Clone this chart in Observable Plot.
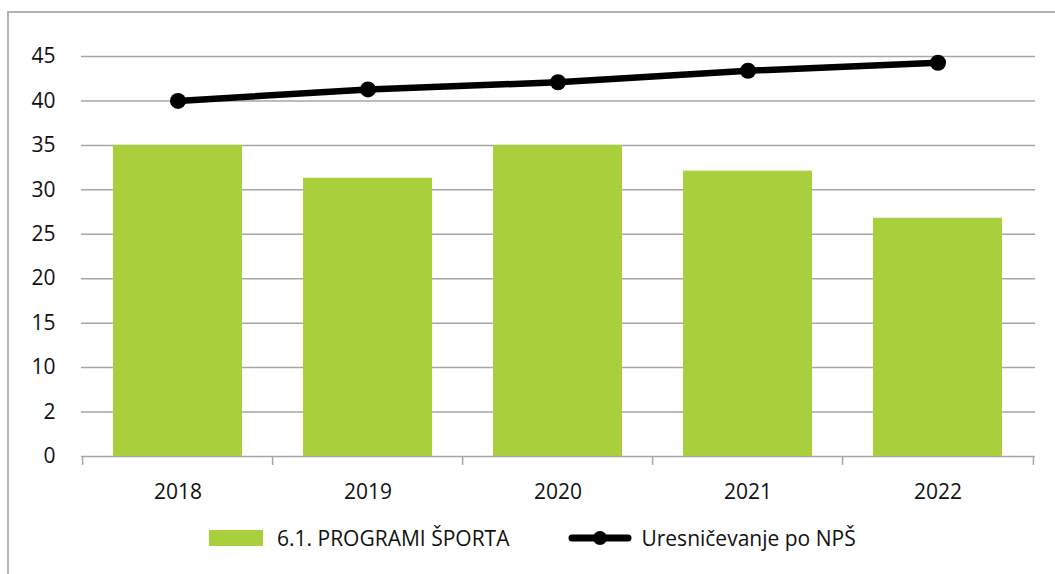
<!DOCTYPE html>
<html>
<head>
<meta charset="utf-8">
<script src="https://cdn.jsdelivr.net/npm/d3@7"></script>
<script src="https://cdn.jsdelivr.net/npm/@observablehq/plot@0.6"></script>
<style>
  html, body { margin: 0; padding: 0; background: #fff; }
  body { width: 1055px; height: 574px; position: relative; overflow: hidden; font-family: "Open Sans", sans-serif; }
  #frame { position: absolute; left: 7px; top: 11px; width: 1100px; height: 600px; border-left: 2px solid #b3b3b3; border-top: 2px solid #b3b3b3; }
  #chart { position: absolute; left: 0; top: 0; }
  #legend { position: absolute; left: 209px; top: 524px; display: flex; align-items: center; font-size: 21px; color: #111; }
  .item { display: flex; align-items: center; }
  .sw { width: 54px; height: 16px; background: #a9cf3d; margin-right: 14px; }
</style>
</head>
<body>
<div id="frame"></div>
<div id="chart"></div>
<div id="legend"></div>
<script>
const years = ["2018", "2019", "2020", "2021", "2022"];
const programiSporta = [35.0, 31.3, 35.0, 32.1, 26.8];
const uresnicevanje = [40.0, 41.3, 42.1, 43.4, 44.3];
const yTickValues = [0, 5, 10, 15, 20, 25, 30, 35, 40, 45];
const yTickLabels = ["0", "2", "10", "15", "20", "25", "30", "35", "40", "45"];
const seriesNames = ["6.1. PROGRAMI ŠPORTA", "Uresničevanje po NPŠ"];
const barColor = "#a9cf3d";
const gridColor = "#a6a6a6";

const bars = years.map((y, i) => ({year: y, value: programiSporta[i]}));
const line = years.map((y, i) => ({year: y, value: uresnicevanje[i]}));

const W = 1055, mL = 81, mR = 20;
const step = (W - mL - mR) / years.length;

const plot = Plot.plot({
  width: W,
  height: 520,
  marginLeft: mL,
  marginRight: mR,
  marginTop: 56,
  marginBottom: 64,
  style: { fontFamily: "Open Sans, sans-serif", fontSize: "21px", color: "#111", background: "transparent" },
  x: { domain: years, paddingInner: 0.32, paddingOuter: 0.16, label: null, tickSize: 0, tickPadding: 28 },
  y: { domain: [0, 45], label: null, ticks: yTickValues, tickSize: 0, tickPadding: 26,
       tickFormat: d => yTickLabels[yTickValues.indexOf(d)] },
  marks: [
    Plot.ruleY(yTickValues, { stroke: gridColor, strokeWidth: 1.5 }),
    Plot.barY(bars, { x: "year", y: "value", fill: barColor }),
    Plot.ruleX(years, { x: d => d, y1: 0, y2: -1, dx: -step / 2, stroke: gridColor, strokeWidth: 1.5 }),
    Plot.ruleX(years.slice(-1), { x: d => d, y1: 0, y2: -1, dx: step / 2, stroke: gridColor, strokeWidth: 1.5 }),
    Plot.line(line, { x: "year", y: "value", stroke: "#000", strokeWidth: 6.5 }),
    Plot.dot(line, { x: "year", y: "value", fill: "#000", r: 8 })
  ]
});
document.getElementById("chart").appendChild(plot);

const legend = document.getElementById("legend");
legend.innerHTML = `
  <div class="item"><div class="sw"></div><span>${seriesNames[0]}</span></div>
  <div class="item" style="margin-left:58px">
    <svg width="66" height="18" style="margin-right:8px">
      <line x1="5" y1="9" x2="61" y2="9" stroke="#000" stroke-width="7" stroke-linecap="round"></line>
      <circle cx="33" cy="9" r="7" fill="#000"></circle>
    </svg>
    <span>${seriesNames[1]}</span></div>`;
</script>
</body>
</html>
